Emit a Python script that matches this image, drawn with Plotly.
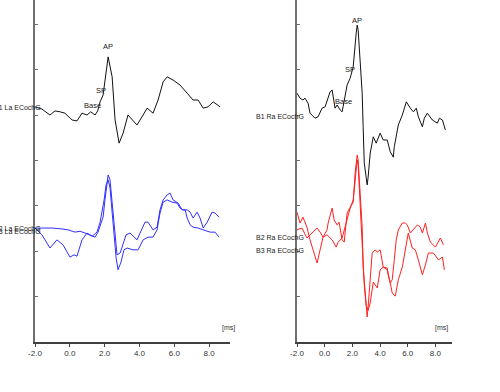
import plotly.graph_objects as go

# ---------------- data (time in ms, amplitude in tick units) ----------------
la_b1_t = [-2.00, -1.60, -1.14, -0.85, -0.56, -0.28, 0.13, 0.41, 0.70, 0.99, 1.20, 1.45, 1.60, 1.74, 1.91, 2.08, 2.20, 2.43, 2.60, 2.83, 3.06, 3.34, 3.63, 3.86, 4.21, 4.44, 4.78, 5.07, 5.36, 5.59, 5.93, 6.33, 6.74, 7.08, 7.37, 7.66, 7.94, 8.23, 8.63]
la_b1_y = [5.18, 5.13, 5.00, 5.09, 5.07, 5.04, 4.89, 4.87, 5.04, 5.00, 5.07, 5.00, 5.09, 5.29, 5.44, 5.99, 6.28, 5.84, 4.89, 4.38, 4.60, 5.00, 4.89, 4.78, 5.00, 5.15, 5.04, 5.33, 5.73, 5.84, 5.77, 5.66, 5.48, 5.33, 5.33, 5.15, 5.18, 5.29, 5.18]

la_b2_t = [-2.00, -1.02, -0.45, -0.10, 0.30, 0.59, 0.87, 1.16, 1.45, 1.62, 1.74, 1.91, 2.02, 2.14, 2.20, 2.31, 2.43, 2.60, 2.71, 2.89, 3.23, 3.46, 3.86, 4.32, 4.49, 4.78, 5.01, 5.18, 5.36, 5.59, 5.76, 5.93, 6.22, 6.45, 6.62, 6.74, 6.91, 7.08, 7.37, 7.66, 8.06, 8.34, 8.57]
la_b2_y = [2.51, 2.51, 2.49, 2.47, 2.42, 2.44, 2.40, 2.36, 2.31, 2.42, 2.58, 2.75, 3.13, 3.50, 3.68, 3.57, 3.06, 2.40, 1.92, 1.96, 2.36, 2.40, 2.25, 2.64, 2.64, 2.47, 2.53, 2.91, 3.13, 3.24, 3.28, 3.13, 3.06, 2.91, 2.91, 2.73, 2.58, 2.53, 2.51, 2.47, 2.42, 2.42, 2.31]

la_b3_t = [-2.00, -1.60, -1.14, -0.74, -0.39, 0.01, 0.24, 0.41, 0.70, 0.99, 1.28, 1.56, 1.74, 1.97, 2.08, 2.20, 2.31, 2.48, 2.66, 2.77, 2.94, 3.11, 3.29, 3.63, 3.92, 4.21, 4.49, 4.78, 5.01, 5.18, 5.36, 5.59, 5.87, 6.16, 6.33, 6.51, 6.74, 6.91, 7.08, 7.31, 7.48, 7.66, 7.89, 8.17, 8.34, 8.57]
la_b3_y = [2.51, 2.36, 2.07, 2.25, 2.14, 1.87, 1.92, 1.89, 2.25, 2.40, 2.33, 2.42, 2.64, 3.13, 3.46, 3.57, 3.39, 2.58, 1.85, 1.59, 1.76, 2.03, 2.07, 2.03, 2.03, 2.25, 2.31, 2.31, 2.47, 2.84, 3.08, 3.13, 3.08, 3.06, 2.95, 2.91, 2.91, 2.86, 2.73, 2.86, 2.73, 2.51, 2.64, 2.86, 2.84, 2.75]

ra_b1_t = [-2.00, -1.78, -1.57, -1.42, -1.20, -1.06, -0.70, -0.48, -0.19, 0.03, 0.39, 0.54, 0.75, 0.90, 1.12, 1.26, 1.33, 1.62, 1.84, 1.99, 2.06, 2.28, 2.35, 2.42, 2.57, 2.71, 2.78, 2.86, 3.07, 3.14, 3.29, 3.51, 3.72, 4.01, 4.23, 4.52, 4.74, 4.96, 5.03, 5.32, 5.61, 5.90, 6.19, 6.41, 6.62, 6.77, 7.06, 7.20, 7.42, 7.78, 8.14, 8.29, 8.51, 8.72]
ra_b1_y = [5.48, 5.37, 5.33, 5.37, 5.26, 5.04, 4.93, 4.96, 5.15, 5.18, 5.51, 5.55, 5.15, 5.22, 5.11, 5.07, 5.18, 5.66, 5.81, 5.99, 6.06, 6.81, 6.98, 6.87, 6.06, 5.48, 4.74, 3.94, 3.46, 3.63, 4.16, 4.52, 4.38, 4.60, 4.45, 4.45, 4.19, 4.07, 4.30, 4.78, 5.00, 5.29, 5.15, 5.07, 5.15, 4.96, 4.74, 4.93, 5.04, 4.89, 4.82, 4.93, 4.89, 4.67]

ra_b2_t = [-2.00, -1.78, -1.57, -1.28, -1.06, -0.84, -0.55, -0.33, -0.12, 0.17, 0.25, 0.54, 0.68, 0.90, 1.04, 1.26, 1.41, 1.62, 1.84, 2.06, 2.20, 2.35, 2.42, 2.57, 2.71, 2.78, 2.93, 3.07, 3.14, 3.29, 3.43, 3.65, 3.80, 4.01, 4.16, 4.23, 4.52, 4.59, 4.74, 4.88, 5.03, 5.17, 5.32, 5.61, 5.83, 5.97, 6.19, 6.41, 6.70, 6.91, 7.06, 7.28, 7.42, 7.64, 8.00, 8.36, 8.58]
ra_b2_y = [2.86, 2.62, 2.75, 2.53, 2.25, 2.03, 1.74, 2.03, 2.31, 2.47, 2.62, 2.95, 2.69, 2.58, 2.64, 2.25, 2.20, 2.84, 2.95, 3.08, 3.72, 4.12, 4.01, 3.13, 2.53, 1.65, 0.99, 0.55, 0.77, 1.37, 1.96, 2.03, 1.98, 2.03, 1.81, 1.65, 1.63, 1.48, 1.30, 1.37, 1.81, 2.25, 2.47, 2.62, 2.62, 2.58, 2.40, 2.47, 2.58, 2.53, 2.40, 2.62, 2.40, 2.20, 2.09, 2.29, 2.14]

ra_b3_t = [-2.00, -1.64, -1.28, -0.91, -0.55, -0.33, -0.12, 0.17, 0.54, 0.83, 0.97, 1.26, 1.55, 1.84, 2.06, 2.20, 2.35, 2.42, 2.57, 2.71, 2.86, 3.00, 3.14, 3.29, 3.51, 3.80, 4.01, 4.23, 4.52, 4.74, 4.88, 5.10, 5.32, 5.61, 5.83, 6.04, 6.33, 6.55, 6.77, 7.06, 7.28, 7.49, 7.86, 8.22, 8.51, 8.65]
ra_b3_y = [2.47, 2.51, 2.29, 2.40, 2.51, 2.42, 2.31, 2.36, 2.25, 2.09, 2.20, 2.29, 2.64, 2.95, 3.13, 3.61, 4.01, 3.89, 3.02, 2.25, 1.26, 0.81, 0.70, 0.86, 1.32, 1.19, 1.59, 1.65, 1.59, 1.30, 1.08, 1.01, 1.37, 1.65, 2.07, 2.40, 2.07, 2.03, 1.81, 1.48, 1.70, 1.96, 1.96, 1.81, 1.87, 1.59]

x_tickvals = [-2, 0, 2, 4, 6, 8]
x_ticktext = ["-2.0", "0.0", "2.0", "4.0", "6.0", "8.0"]
y_tickvals = [0, 1, 2, 3, 4, 5, 6, 7]

left_channel_labels = ["B1 La ECochG", "B2 La ECochG", "B3 La ECochG"]
right_channel_labels = ["B1 Ra ECochG", "B2 Ra ECochG", "B3 Ra ECochG"]

# markers: (text, t, amplitude)
left_markers = [("AP", 2.20, 6.50), ("SP", 1.79, 5.55), ("Base", 1.33, 5.22)]
right_markers = [("AP", 2.35, 7.09), ("SP", 1.84, 6.01), ("Base", 1.33, 5.29)]

# ---------------- figure ----------------
W, H = 500, 392
BLACK = "#111111"
BLUE = "#3030ff"
RED = "#ff2020"
FONT = "Liberation Sans, Arial, sans-serif"

fig = go.Figure()
for t, y, c in [(la_b1_t, la_b1_y, BLACK), (la_b2_t, la_b2_y, BLUE), (la_b3_t, la_b3_y, BLUE)]:
    fig.add_trace(go.Scatter(x=t, y=y, mode="lines", line=dict(color=c, width=1),
                             xaxis="x", yaxis="y", showlegend=False, hoverinfo="skip"))
for t, y, c in [(ra_b1_t, ra_b1_y, BLACK), (ra_b2_t, ra_b2_y, RED), (ra_b3_t, ra_b3_y, RED)]:
    fig.add_trace(go.Scatter(x=t, y=y, mode="lines", line=dict(color=c, width=1),
                             xaxis="x2", yaxis="y2", showlegend=False, hoverinfo="skip"))

ydom = [50 / H, 1.0]
yrange = [0, 342 / 45.4]
xrange = [-2, 9.2]

xaxis_common = dict(range=xrange, tickvals=x_tickvals, ticktext=x_ticktext,
                    showline=True, linecolor="#404040", linewidth=1.5,
                    ticks="outside", ticklen=3, tickcolor="#404040", tickwidth=1,
                    showgrid=False, zeroline=False, automargin=False,
                    tickfont=dict(family=FONT, size=8, color="#333333"), fixedrange=True)
yaxis_common = dict(range=yrange, domain=ydom, tickvals=y_tickvals, showticklabels=False,
                    showline=True, linecolor="#707070", linewidth=2,
                    ticks="inside", ticklen=3, tickcolor="#707070", automargin=False,
                    showgrid=False, zeroline=False, fixedrange=True)

fig.update_layout(
    template="none",
    width=W, height=H,
    margin=dict(l=0, r=0, t=0, b=0, pad=0, autoexpand=False),
    paper_bgcolor="white", plot_bgcolor="white",
    xaxis=dict(domain=[35 / W, 230 / W], anchor="y", **xaxis_common),
    yaxis=dict(anchor="x", **yaxis_common),
    xaxis2=dict(domain=[297 / W, 452 / W], anchor="y2", **xaxis_common),
    yaxis2=dict(anchor="x2", **yaxis_common),
)

ann = []
# channel labels (paper coordinates)
for txt, py in zip(left_channel_labels, [107, 229, 231]):
    ann.append(dict(text=txt, x=43 / W, y=1 - py / H, xref="paper", yref="paper",
                    xanchor="right", yanchor="middle", showarrow=False,
                    font=dict(family=FONT, size=7, color="#222222")))
for txt, py in zip(right_channel_labels, [116, 238, 250]):
    ann.append(dict(text=txt, x=306 / W, y=1 - py / H, xref="paper", yref="paper",
                    xanchor="right", yanchor="middle", showarrow=False,
                    font=dict(family=FONT, size=7, color="#222222")))
# markers
for txt, t, a in left_markers:
    ann.append(dict(text=txt, x=t, y=a, xref="x", yref="y", showarrow=False,
                    font=dict(family=FONT, size=7.5, color="#222222")))
for txt, t, a in right_markers:
    ann.append(dict(text=txt, x=t, y=a, xref="x2", yref="y2", showarrow=False,
                    font=dict(family=FONT, size=7.5, color="#222222")))
# units
for px in [228, 450]:
    ann.append(dict(text="[ms]", x=px / W, y=1 - 334 / H, xref="paper", yref="paper",
                    showarrow=False, font=dict(family=FONT, size=7, color="#333333")))
fig.update_layout(annotations=ann)

fig.write_html("out.html", config=dict(displayModeBar=False, staticPlot=True),
               post_script="document.body.style.margin='0';document.body.style.overflow='hidden';")
